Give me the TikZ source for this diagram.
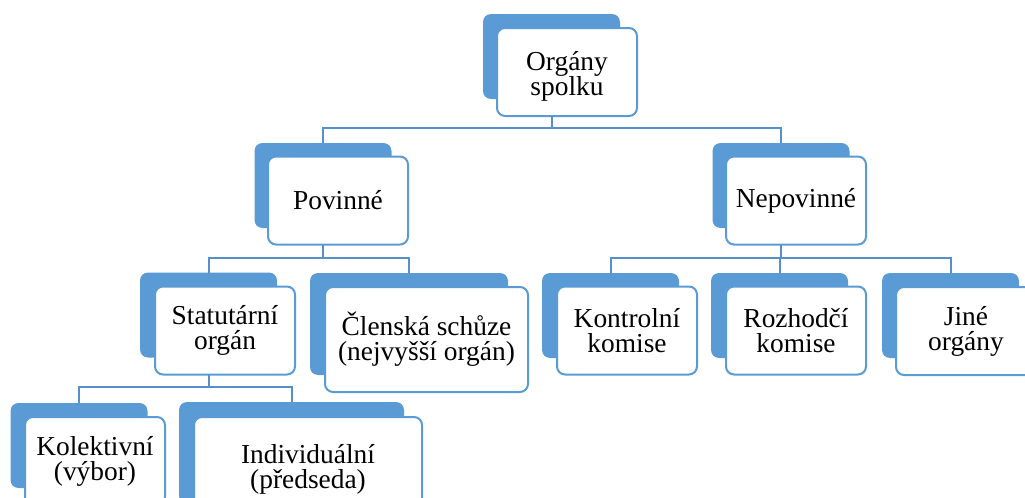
\documentclass[tikz,border=0pt]{standalone}
\usepackage{fontspec}
\setmainfont{Liberation Serif}
\definecolor{smblue}{HTML}{5B9BD5}
\definecolor{link}{HTML}{5590CC}

\begin{document}
\begin{tikzpicture}[x=0.5pt,y=-0.5pt,
    tabbox/.style={fill=smblue, rounded corners=4pt, inner sep=0pt, outer sep=0pt,
      minimum width=68.5pt, minimum height=42.5pt},
    cardbox/.style={draw=smblue, line width=1pt, fill=white, rounded corners=4pt,
      inner sep=0pt, outer sep=0pt, minimum width=70pt, minimum height=44pt,
      align=center, font=\fontsize{13.7}{12.5}\selectfont},
    widetab/.style={tabbox, minimum height=51pt},
    widecard/.style={cardbox, minimum height=52.5pt},
    tie/.style={draw=link, line width=1pt}]
  \useasboundingbox (0,0) rectangle (1025,498);

  % blue tabs behind the cards
  \path
  (551.5,56.5) node[tabbox](rootb) {}
  (323,185.5) node[tabbox](povb) {}
  (781,185.5) node[tabbox](nepb) {}
  (208.5,315) node[tabbox](statb) {}
  (409,324) node[widetab, minimum width=99pt](clenb) {}
  (610.5,315.5) node[tabbox](kontb) {}
  (779.5,315.5) node[tabbox](rozb) {}
  (950.5,315.5) node[tabbox](jineb) {}
  (79,445.5) node[tabbox](kolb) {}
  (291.5,453) node[widetab, minimum width=112.5pt](indb) {}
  ;

  % cards
  \path
  (567,72) node[cardbox](root) {\rule{0pt}{13.5pt}Orgány\\spolku}
  (338,200.5) node[cardbox](pov) {Povinné}
  (796,200.5) node[cardbox](nep) {Nepovinné}
  (225,330.5) node[cardbox](stat) {Statutární\\orgán}
  (426.5,339.5) node[widecard, minimum width=101.5pt](clen) {Členská schůze\\(nejvyšší orgán)}
  (627,330.5) node[cardbox](kont) {Kontrolní\\komise}
  (796,330.5) node[cardbox](roz) {Rozhodčí\\komise}
  (966,331) node[cardbox](jine) {Jiné\\orgány}
  (95,461) node[cardbox](kol) {Kolektivní\\(výbor)}
  (308,469.5) node[widecard, minimum width=114pt](ind) {Individuální\\(předseda)}
  ;

  \coordinate (forka) at (551.5,128);
  \coordinate (forkb) at (323,258);
  \coordinate (forkc) at (781,258);
  \coordinate (forkd) at (208.5,387);

  \draw[tie] (rootb.south |- root.south) -- (forka);
  \draw[tie] (povb.north) -- (povb.north |- forka) -- (nepb.north |- forka) -- (nepb.north);

  \draw[tie] (povb.south |- pov.south) -- (forkb);
  \draw[tie] (statb.north) -- (statb.north |- forkb) -- (clenb.north |- forkb) -- (clenb.north);

  \draw[tie] (nepb.south |- nep.south) -- (forkc);
  \draw[tie] (kontb.north) -- (kontb.north |- forkc) -- (jineb.north |- forkc) -- (jineb.north);
  \draw[tie] (rozb.north |- forkc) -- (rozb.north);

  \draw[tie] (statb.south |- stat.south) -- (forkd);
  \draw[tie] (kolb.north) -- (kolb.north |- forkd) -- (indb.north |- forkd) -- (indb.north);
\end{tikzpicture}
\end{document}
